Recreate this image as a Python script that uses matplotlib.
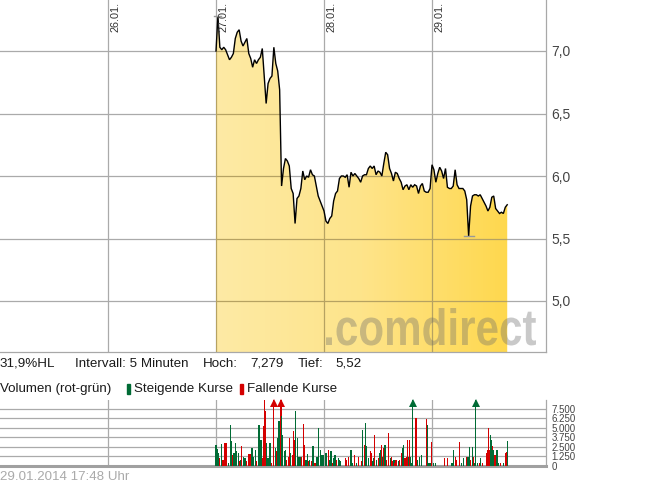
import numpy as np
import matplotlib
matplotlib.use("Agg")
import matplotlib.pyplot as plt
from matplotlib.patches import Polygon, PathPatch
from matplotlib.colors import LinearSegmentedColormap
from matplotlib.textpath import TextPath
from matplotlib.font_manager import FontProperties
import matplotlib.transforms as mtrans

plt.rcParams['font.family'] = ['Liberation Sans', 'DejaVu Sans']

# ---------------- data ----------------
day_labels = ["26.01.", "27.01.", "28.01.", "29.01."]   # day index 1..4 (25.01. = 0)
price_ticks = [5.0, 5.5, 6.0, 6.5, 7.0]
price_tick_labels = ["5,0", "5,5", "6,0", "6,5", "7,0"]
vol_ticks = [0, 1250, 2500, 3750, 5000, 6250, 7500]
vol_tick_labels = ["0", "1.250", "2.500", "3.750", "5.000", "6.250", "7.500"]

# 15-minute prices starting 08:00 each day
price_27 = [7.00, 7.28, 7.03, 7.01, 7.03, 7.01, 6.97, 6.93, 6.95, 6.98,
            7.10, 7.15, 7.17, 7.08, 7.04, 7.07, 7.10, 6.98, 6.94, 6.87,
            6.93, 6.90, 6.93, 6.95, 7.02, 6.80, 6.58, 6.74, 6.78, 6.80,
            7.03, 6.90, 6.84, 6.69, 5.92, 6.06, 6.14, 6.12, 6.08, 5.90,
            5.86, 5.62, 5.82, 5.84, 5.90, 6.04, 5.97, 6.00, 5.99, 6.05,
            6.01, 6.00, 5.92, 5.84, 5.80, 5.76]
price_28 = [5.72, 5.64, 5.62, 5.66, 5.68, 5.80, 5.86, 5.88, 5.98, 6.00,
            6.00, 5.99, 6.01, 5.91, 6.03, 6.00, 6.02, 6.00, 5.98, 5.95,
            6.00, 6.01, 6.01, 6.06, 6.08, 6.06, 6.08, 6.01, 6.04, 6.03,
            6.00, 6.10, 6.19, 6.17, 6.06, 6.02, 5.96, 6.03, 6.02, 5.98,
            5.95, 5.89, 5.92, 5.93, 5.89, 5.93, 5.91, 5.93, 5.92, 5.86,
            5.92, 5.94, 5.88, 5.87, 5.87, 5.90]
price_29 = [6.09, 6.05, 5.95, 6.02, 6.07, 6.04, 5.98, 6.06, 5.91, 5.90,
            5.90, 5.92, 6.05, 5.93, 5.90, 5.90, 5.90, 5.88, 5.81, 5.52,
            5.76, 5.84, 5.85, 5.85, 5.84, 5.85, 5.82, 5.79, 5.76, 5.72,
            5.75, 5.83, 5.84, 5.74, 5.72, 5.70, 5.71, 5.70, 5.75, 5.77]

vol_time = [
    "27.01. 08:00", "27.01. 08:10", "27.01. 08:20", "27.01. 08:30", "27.01. 08:45", "27.01. 08:55",
    "27.01. 09:10", "27.01. 09:20", "27.01. 09:35", "27.01. 09:50", "27.01. 10:00", "27.01. 10:10",
    "27.01. 10:20", "27.01. 10:30", "27.01. 10:40", "27.01. 10:55", "27.01. 11:00", "27.01. 11:10",
    "27.01. 11:20", "27.01. 11:35", "27.01. 11:45", "27.01. 12:00", "27.01. 12:10", "27.01. 12:25",
    "27.01. 12:40", "27.01. 12:50", "27.01. 13:05", "27.01. 13:15", "27.01. 13:30", "27.01. 13:35",
    "27.01. 13:50", "27.01. 14:00", "27.01. 14:10", "27.01. 14:15", "27.01. 14:25", "27.01. 14:35",
    "27.01. 14:45", "27.01. 15:00", "27.01. 15:10", "27.01. 15:30", "27.01. 15:40", "27.01. 15:50",
    "27.01. 16:00", "27.01. 16:10", "27.01. 16:20", "27.01. 16:25", "27.01. 16:30", "27.01. 16:40",
    "27.01. 16:50", "27.01. 17:00", "27.01. 17:10", "27.01. 17:25", "27.01. 17:30", "27.01. 17:40",
    "27.01. 17:55", "27.01. 18:05", "27.01. 18:15", "27.01. 18:20", "27.01. 18:35", "27.01. 18:45",
    "27.01. 18:55", "27.01. 19:05", "27.01. 19:20", "27.01. 19:25", "27.01. 19:40", "27.01. 19:50",
    "27.01. 20:00", "27.01. 20:10", "27.01. 20:25", "27.01. 20:35", "27.01. 20:50", "27.01. 21:05",
    "27.01. 21:15", "27.01. 21:30", "27.01. 21:35", "27.01. 21:45", "27.01. 21:55",
    "28.01. 08:10", "28.01. 08:20", "28.01. 08:35", "28.01. 08:45", "28.01. 08:55", "28.01. 09:05",
    "28.01. 09:15", "28.01. 09:25", "28.01. 09:35", "28.01. 09:50", "28.01. 10:00", "28.01. 10:10",
    "28.01. 10:45", "28.01. 10:55", "28.01. 11:10", "28.01. 11:30", "28.01. 11:40", "28.01. 11:55",
    "28.01. 12:15", "28.01. 12:30", "28.01. 12:50", "28.01. 13:00", "28.01. 13:15", "28.01. 13:20",
    "28.01. 13:30", "28.01. 13:45", "28.01. 14:00", "28.01. 14:05", "28.01. 14:15", "28.01. 14:25",
    "28.01. 14:35", "28.01. 14:50", "28.01. 15:05", "28.01. 15:10", "28.01. 15:20", "28.01. 15:30",
    "28.01. 15:35", "28.01. 15:45", "28.01. 15:55", "28.01. 16:05", "28.01. 16:20", "28.01. 16:35",
    "28.01. 16:45", "28.01. 16:55", "28.01. 17:05", "28.01. 17:10", "28.01. 17:20", "28.01. 17:40",
    "28.01. 17:50", "28.01. 18:05", "28.01. 18:10", "28.01. 18:20", "28.01. 18:30", "28.01. 18:40",
    "28.01. 18:50", "28.01. 18:55", "28.01. 19:05", "28.01. 19:15", "28.01. 19:20", "28.01. 19:30",
    "28.01. 19:50", "28.01. 19:55", "28.01. 20:05", "28.01. 20:20", "28.01. 20:25", "28.01. 20:40",
    "28.01. 21:15", "28.01. 21:25", "28.01. 21:35", "28.01. 21:45", "28.01. 21:55",
    "29.01. 08:10", "29.01. 08:25", "29.01. 09:40", "29.01. 10:00", "29.01. 10:30", "29.01. 10:35",
    "29.01. 10:45", "29.01. 11:00", "29.01. 11:10", "29.01. 11:35", "29.01. 11:50", "29.01. 12:05",
    "29.01. 12:30", "29.01. 12:40", "29.01. 12:50", "29.01. 13:00", "29.01. 13:15", "29.01. 13:25",
    "29.01. 13:35", "29.01. 13:40", "29.01. 13:55", "29.01. 14:10", "29.01. 14:20", "29.01. 14:30",
    "29.01. 15:05", "29.01. 15:15", "29.01. 15:20", "29.01. 15:25", "29.01. 15:35", "29.01. 15:40",
    "29.01. 15:50", "29.01. 15:55", "29.01. 16:10", "29.01. 16:25", "29.01. 16:35", "29.01. 16:50",
    "29.01. 17:15", "29.01. 17:30", "29.01. 17:40", "29.01. 17:45"]
vol_value = [
    2780, 2250, 1680, 1000, 2870, 800, 3000, 3000, 400, 5420, 3220, 1450,
    1680, 3000, 1900, 1680, 600, 800, 2560, 1200, 1000, 600, 1540, 1540,
    2340, 1200, 2120, 600, 350, 5420, 3440, 1000, 5200, 8600, 7190, 3000,
    1000, 3000, 350, 9500, 2340, 1900, 3660, 5870, 6970, 9500, 6530, 4100,
    1900, 2120, 800, 1200, 3660, 1680, 1450, 4540, 3440, 7190, 3660, 1200,
    1200, 1200, 5510, 2780, 800, 1540, 600, 800, 600, 2560, 350, 1200,
    4980, 1200, 2120, 1450, 1450,
    1680, 1680, 2120, 800, 1900, 350, 1000, 1450, 800, 1000, 800, 600,
    1000, 800, 1200, 2120, 350, 1450, 350, 1200, 600, 4760, 2780, 5640,
    2560, 1000, 1900, 1680, 600, 1000, 4100, 800, 1000, 1680, 2120, 2780,
    1200, 2340, 2780, 800, 4320, 1000, 1200, 600, 800, 350, 800, 600,
    800, 1680, 2340, 2780, 1000, 1200, 3440, 1200, 3440, 1200, 350, 9500,
    350, 6300, 800, 600, 1200, 1450, 6150, 5360, 440, 440, 3180,
    350, 350, 1000, 1000, 350, 350, 2090, 1200, 800, 3180, 350, 1000,
    1200, 1200, 2530, 800, 2530, 1200, 350, 9500, 350, 440, 1000, 350,
    1650, 2090, 4930, 2090, 4050, 3400, 2600, 2090, 1450, 2090, 350, 440,
    350, 1740, 1870, 3310]
# g = steigend (green), r = fallend (red); one letter per volume bar
vol_dir = "".join([
    "gggrgrrrgggr", "ggggrgrggrrr", "gggrrggrrrrg", "ggrrgrggrrgg",
    "ggrrrgrrrggg", "grrrggrgrgrg", "grggg",
    "ggrggrggrggg", "rrrggrgrrgrg", "ggrrggrgrggr", "grgrrgrrgrrg",
    "rrggrrrgrggg", "rrgrggrgggr",
    "ggrrrggrrrgg", "rggrgrgggrgr", "rrrrggrgrggr", "grrg"])

# ---------------- helpers ----------------
def day_x(day_idx, minutes_since_8):
    return day_idx + minutes_since_8 / 840.0

px = []
py = []
for d, arr in ((2, price_27), (3, price_28), (4, price_29)):
    for i, v in enumerate(arr):
        px.append(day_x(d, i * 15))
        py.append(v)
px = np.array(px)
py = np.array(py)

vx = []
for s in vol_time:
    dd = int(s[:2]) - 25
    hh = int(s[7:9]); mm = int(s[10:12])
    vx.append(day_x(dd, (hh - 8) * 60 + mm))
vx = np.array(vx)
vv = np.array(vol_value, dtype=float)
vd = list(vol_dir)

W, H = 645, 483
fig = plt.figure(figsize=(W / 100, H / 100), dpi=100)
fig.patch.set_facecolor('white')

XMAX = 546 / 108.0
GRID = '#aaaaaa'
GRID_ON_FILL = '#b6a262'
GREEN = '#006b35'
RED = '#d40000'

# ---------------- price panel ----------------
ax = fig.add_axes([0, 1 - 352 / H, 546 / W, 352 / H])
ybot, ytop = 7.0 - (352 - 51) / 125.0, 7.0 + 51 / 125.0
ax.set_xlim(0, XMAX)
ax.set_ylim(ybot, ytop)
for s in ('left', 'top'):
    ax.spines[s].set_visible(False)
for s in ('right', 'bottom'):
    ax.spines[s].set_color('#a8a8a8')
    ax.spines[s].set_linewidth(0.9)
ax.set_xticks([])
ax.yaxis.tick_right()
ax.set_yticks(price_ticks)
ax.set_yticklabels(price_tick_labels)
ax.tick_params(axis='y', length=0, pad=4, labelsize=10, labelcolor='#444444')

for v in price_ticks:
    ax.axhline(v, color=GRID, lw=0.9, zorder=1)
for d in range(1, 5):
    ax.axvline(d, color=GRID, lw=0.9, zorder=1)

verts = [(px[0], ybot)] + list(zip(px, py)) + [(px[-1], ybot)]
poly = Polygon(verts, closed=True, facecolor='none', edgecolor='none')
ax.add_patch(poly)
cmap = LinearSegmentedColormap.from_list('g', ['#fdeaa5', '#fee48a', '#ffd84e'])
grad = np.linspace(0, 1, 256).reshape(1, -1)
im = ax.imshow(grad, extent=(px[0], px[-1], ybot, ytop), aspect='auto', cmap=cmap,
               zorder=2, interpolation='bilinear')
im.set_clip_path(poly)

for v in price_ticks:
    l = ax.axhline(v, color=GRID_ON_FILL, lw=0.9, zorder=3)
    l.set_clip_path(poly)
for d in range(1, 5):
    l = ax.axvline(d, color=GRID_ON_FILL, lw=0.9, zorder=3)
    l.set_clip_path(poly)

# watermark, fitted to its box in the reference (pixels: x 326..536, baseline 345, height 37)
tp = TextPath((0, 0), '.comdirect', size=100,
              prop=FontProperties(family='Liberation Sans', weight='bold'))
bb = tp.get_extents()
sx = 210.0 / bb.width
sy = 37.0 / bb.y1
wm_tr = mtrans.Affine2D().scale(sx, sy).translate(326 - bb.x0 * sx, H - 345)
wm = PathPatch(tp, transform=wm_tr, facecolor=(0.42, 0.42, 0.42), edgecolor='none',
               alpha=0.36, zorder=4)
ax.add_artist(wm)

ax.plot(px, py, color='black', lw=1.0, zorder=5, solid_joinstyle='miter')

# high / low marks
ppx = 1.0 / 108
imax, imin = int(np.argmax(py)), int(np.argmin(py))
ax.plot([px[imax] - 4 * ppx, px[imax] + 3 * ppx], [py[imax]] * 2, color='#999999', lw=1, zorder=6)
ax.plot([px[imin] - 5 * ppx, px[imin] + 5 * ppx], [py[imin]] * 2, color='#999999', lw=1, zorder=6)

date_tr = mtrans.blended_transform_factory(ax.transData, ax.transAxes)
for d, lab in enumerate(day_labels, start=1):
    ax.text(d + 2.5 * ppx, 1 - 2 / 352, lab, transform=date_tr, rotation=90,
            ha='left', va='top', fontsize=7.8, color='#333333', zorder=6)

# ---------------- info lines ----------------
def fp(x, y):
    return x / W, 1 - y / H

TXT = '#1a1a1a'
FS = 9.6
fig.text(*fp(0, 364), '31,9%HL', fontsize=FS, color=TXT, va='center')
fig.text(*fp(75, 364), 'Intervall: 5 Minuten', fontsize=FS, color=TXT, va='center')
fig.text(*fp(203, 364), 'Hoch:', fontsize=FS, color=TXT, va='center')
fig.text(*fp(250, 364), '7,279', fontsize=FS, color=TXT, va='center')
fig.text(*fp(298, 364), 'Tief:', fontsize=FS, color=TXT, va='center')
fig.text(*fp(335, 364), '5,52', fontsize=FS, color=TXT, va='center')

fig.text(*fp(0, 389), 'Volumen (rot-grün)', fontsize=FS, color=TXT, va='center')
fig.patches.append(plt.Rectangle(fp(127, 394), 3 / W, 10 / H, transform=fig.transFigure,
                                 color=GREEN, figure=fig))
fig.text(*fp(134, 389), 'Steigende Kurse', fontsize=FS, color=TXT, va='center')
fig.patches.append(plt.Rectangle(fp(240, 394), 3 / W, 10 / H, transform=fig.transFigure,
                                 color=RED, figure=fig))
fig.text(*fp(247, 389), 'Fallende Kurse', fontsize=FS, color=TXT, va='center')

fig.text(*fp(0, 477), '29.01.2014 17:48 Uhr', fontsize=FS, color='#aaaaaa', va='center')

# ---------------- volume panel ----------------
av = fig.add_axes([0, 1 - 466 / H, 546 / W, 66 / H])
VTOP = 8640
av.set_xlim(0, XMAX)
av.set_ylim(0, VTOP)
for s in ('left', 'top'):
    av.spines[s].set_visible(False)
av.spines['right'].set_color('#a8a8a8')
av.spines['right'].set_linewidth(0.9)
av.spines['bottom'].set_color('#a0a0a0')
av.spines['bottom'].set_linewidth(2.2)
av.set_xticks([])
av.yaxis.tick_right()
av.set_yticks(vol_ticks)
av.set_yticklabels(vol_tick_labels)
av.tick_params(axis='y', length=0, pad=4, labelsize=7, labelcolor='#444444')
for v in vol_ticks[1:]:
    av.axhline(v, color=GRID, lw=0.9, zorder=1)
for d in range(1, 5):
    av.axvline(d, color=GRID, lw=0.9, zorder=1)

colors = [GREEN if c == 'g' else RED for c in vd]
av.bar(vx, np.minimum(vv, VTOP), width=1.15 * ppx, color=colors, zorder=3,
       align='center', linewidth=0)
over = vv > VTOP
for x, c in zip(vx[over], np.array(colors)[over]):
    av.plot([x], [VTOP - 2.6 * VTOP / 66], marker='^', markersize=5.5, color=c,
            clip_on=False, zorder=4, markeredgewidth=0)

fig.savefig('out.png', dpi=100, facecolor='white')
